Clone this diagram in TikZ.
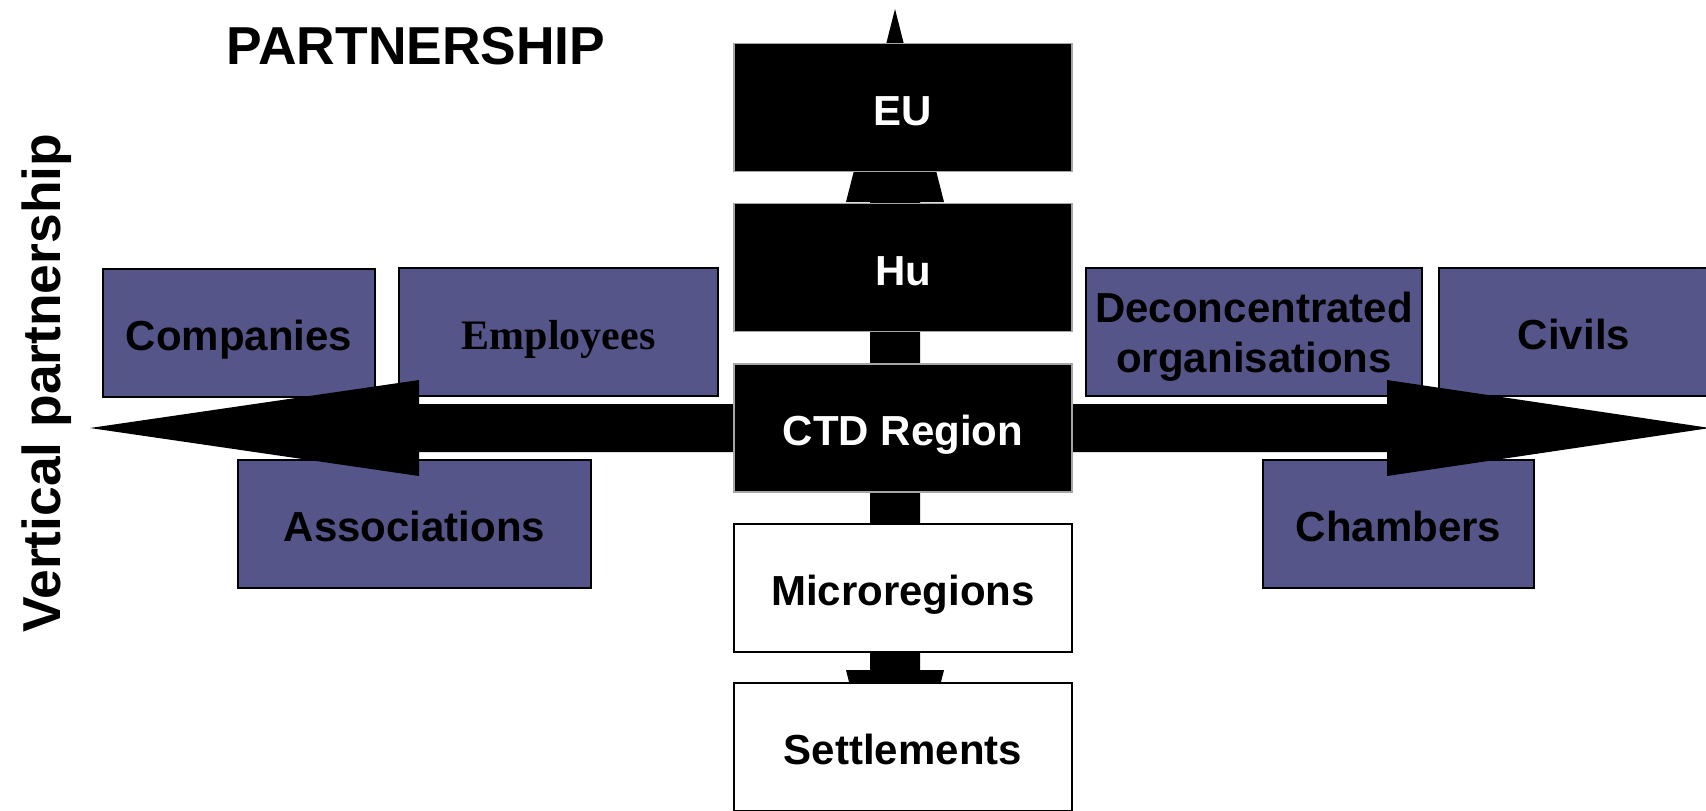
\documentclass[tikz,border=0pt]{standalone}
\usepackage{fontspec}
\setmainfont{Liberation Sans}
\newfontfamily\serifbold{Liberation Serif}
\definecolor{boxblue}{HTML}{55558A}
\begin{document}
\begin{tikzpicture}[x=0.5pt,y=-0.5pt,
  boxtext/.style={font=\bfseries\fontsize{21}{25}\selectfont, inner sep=0pt, text height=19.5pt, text depth=2pt},
  blackbox/.style={boxtext, draw=gray!70, line width=0.6pt, fill=black, text=white, minimum width=169pt, minimum height=64pt},
  whitebox/.style={boxtext, draw=black, line width=1pt, fill=white, text=black, minimum width=169pt, minimum height=64pt},
  bluebox/.style={boxtext, draw=black, line width=1pt, fill=boxblue, text=black, minimum height=64pt},
  bigarrow/.style={fill=black, draw=none},
  title/.style={font=\bfseries\fontsize{26.7}{30}\selectfont, inner sep=0pt}
]
\useasboundingbox (0,0) rectangle (1706,810);
\fill[white] (0,0) rectangle (1706,810);

% vertical double arrow (behind the central boxes)
\coordinate (vtop) at (895,9);
\coordinate (vbot) at (895,863);
\fill[bigarrow] (vtop) -- (944,202) -- (920,202) -- (920,670) -- (944,670) -- (vbot)
  -- (846,670) -- (870,670) -- (870,202) -- (846,202) -- cycle;

% central column
\node[blackbox] (eu) at (903,107.5) {EU};
\node[blackbox] (hu) at (903,267.5) {Hu};
\node[whitebox] (micro) at (903,587.5) {Microregions};
\node[whitebox] (settle) at (903,747) {Settlements};

% side boxes
\node[bluebox, minimum width=136pt] (comp) at (239,332.5) {Companies};
\node[bluebox, minimum width=159.5pt, font=\serifbold\bfseries\fontsize{21}{25}\selectfont] (empl) at (558.5,332) {Employees};
\node[bluebox, minimum width=176.5pt] (assoc) at (414.5,523.5) {Associations};
\node[draw=black, line width=1pt, fill=boxblue, text=black, font=\bfseries\fontsize{21}{25}\selectfont,
      inner sep=0pt, minimum width=168pt, minimum height=64pt] (decon) at (1254,332)
  {\raisebox{-2.7pt}[\height][\depth]{\begin{tabular}{@{}c@{}}Deconcentrated\\organisations\end{tabular}}};
\node[bluebox, minimum width=135pt] (civ) at (1574,332) {Civils};
\node[bluebox, minimum width=135.5pt] (cham) at (1398.5,523.5) {Chambers};

% horizontal double arrow (over the side boxes)
\coordinate (hleft) at (90,428);
\coordinate (hright) at (1710,428);
\fill[bigarrow] (hleft) -- (419,380) -- (419,404) -- (1387,404) -- (1387,380) -- (hright)
  -- (1387,476) -- (1387,452) -- (419,452) -- (419,476) -- cycle;

\node[blackbox] (ctd) at (903,428) {CTD Region};

% titles
\node[title] (ptitle) at (416,46) {PARTNERSHIP};
\node[title, rotate=90] (vtitle) at (47,383) {Vertical partnership};
\end{tikzpicture}
\end{document}
